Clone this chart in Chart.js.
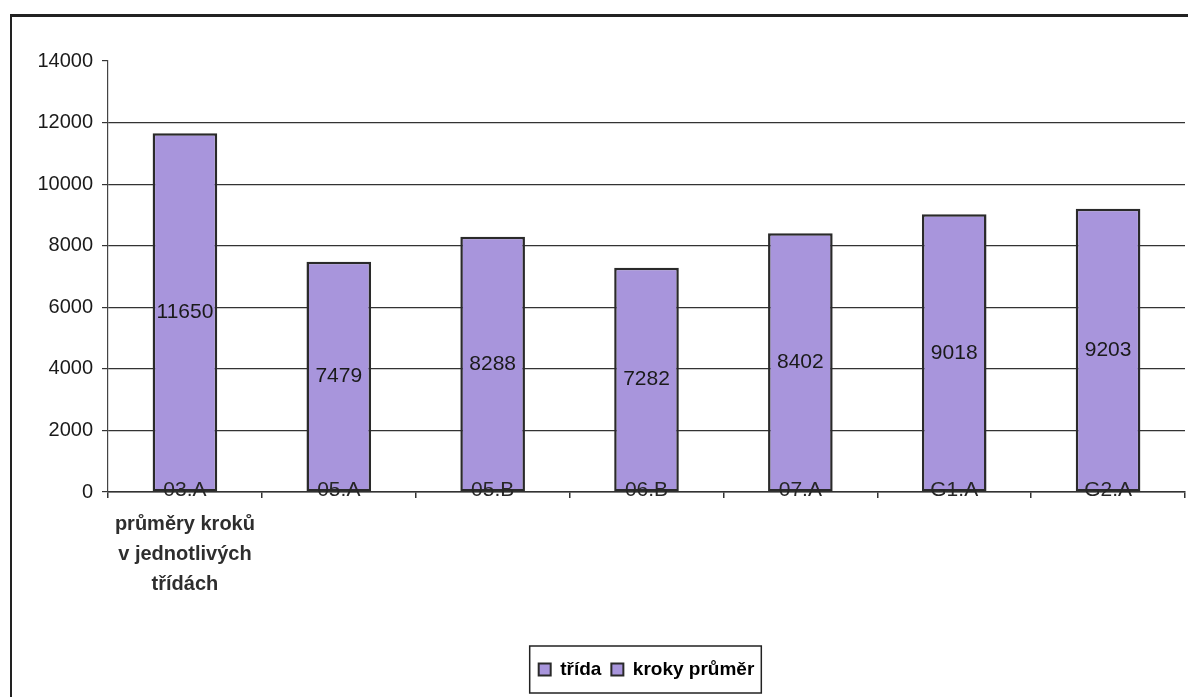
<!DOCTYPE html>
<html>
<head>
<meta charset="utf-8">
<script src="https://cdn.jsdelivr.net/npm/chart.js@4.4.0/dist/chart.umd.min.js"></script>
<style>
  html, body { margin: 0; padding: 0; background: #fff; }
  #wrap { position: relative; width: 1190px; height: 697px; }
  #frame { position: absolute; left: 10px; top: 14px; width: 1176px; height: 690px;
           border-left: 2px solid #222; border-top: 3px solid #222; pointer-events: none; }
</style>
</head>
<body>
<div id="wrap">
  <canvas id="myChart"></canvas>
  <div id="frame"></div>
</div>
<script>
var classes = ['03.A', '05.A', '05.B', '06.B', '07.A', 'G1.A', 'G2.A'];
var stepAverages = [11650, 7479, 8288, 7282, 8402, 9018, 9203];
var legendNames = ['třída', 'kroky průměr'];
var axisCaption = ['průměry kroků', 'v jednotlivých', 'třídách'];
var yMax = 14000;
var yStep = 2000;

(function () {
    var font = '"Liberation Sans", Arial, sans-serif';
    var barFill = '#a895dc';
    var barEdge = '#2a2a2a';
    var ink = '#1a1a1a';

    // value in the middle of each bar
    var valueLabels = {
        id: 'valueLabels',
        afterDatasetsDraw: function (chart) {
            var ctx = chart.ctx;
            var meta = chart.getDatasetMeta(0);
            ctx.save();
            ctx.font = '21px ' + font;
            ctx.fillStyle = ink;
            ctx.textAlign = 'center';
            ctx.textBaseline = 'middle';
            meta.data.forEach(function (bar, i) {
                ctx.fillText(String(stepAverages[i]), bar.x, (bar.y + bar.base) / 2);
            });
            ctx.restore();
        }
    };

    // caption under first category + frame round the legend
    var extras = {
        id: 'extras',
        afterDraw: function (chart) {
            var ctx = chart.ctx;
            var x = chart.scales.x.getPixelForValue(0);
            ctx.save();
            ctx.font = 'bold 20px ' + font;
            ctx.fillStyle = '#2e2e2e';
            ctx.textAlign = 'center';
            ctx.textBaseline = 'middle';
            axisCaption.forEach(function (line, i) {
                ctx.fillText(line, x, 524 + i * 30);
            });

            var boxes = chart.legend.legendHitBoxes;
            if (boxes && boxes.length) {
                var l = Math.min.apply(null, boxes.map(function (b) { return b.left; }));
                var r = Math.max.apply(null, boxes.map(function (b) { return b.left + b.width; }));
                var t = Math.min.apply(null, boxes.map(function (b) { return b.top; }));
                var btm = Math.max.apply(null, boxes.map(function (b) { return b.top + b.height; }));
                ctx.strokeStyle = '#222';
                ctx.lineWidth = 1.5;
                ctx.strokeRect(l - 9, t - 14, (r - l) + 16, (btm - t) + 28);
            }
            ctx.restore();
        }
    };

    var ctx = document.getElementById('myChart');
    new Chart(ctx, {
        type: 'bar',
        plugins: [valueLabels, extras],
        data: {
            labels: classes,
            datasets: [{
                label: legendNames[1],
                data: stepAverages,
                backgroundColor: barFill,
                borderColor: barEdge,
                borderWidth: 2.5,
                borderSkipped: false,
                categoryPercentage: 1,
                barPercentage: 0.42
            }]
        },
        options: {
            responsive: true,
            maintainAspectRatio: false,
            animation: false,
            layout: { padding: { top: 61, right: 5, bottom: 8, left: 0 } },
            plugins: {
                tooltip: { enabled: false },
                legend: {
                    position: 'bottom',
                    fullSize: false,
                    labels: {
                        font: { family: font, size: 19, weight: 'bold' },
                        color: ink,
                        boxWidth: 12,
                        boxHeight: 12,
                        padding: 10,
                        generateLabels: function () {
                            return legendNames.map(function (name) {
                                return {
                                    text: name,
                                    fillStyle: barFill,
                                    strokeStyle: barEdge,
                                    lineWidth: 2,
                                    hidden: false,
                                    datasetIndex: 0
                                };
                            });
                        }
                    }
                }
            },
            scales: {
                x: {
                    afterFit: function (scale) { scale.height = 158; },
                    grid: {
                        display: true,
                        drawOnChartArea: false,
                        offset: true,
                        tickLength: 6,
                        color: '#333',
                        lineWidth: 1.5
                    },
                    border: { display: true, color: '#333', width: 1.5 },
                    ticks: {
                        z: 1,          // labels sit on top of the bars
                        mirror: true,  // drawn inside the plot, over the axis line
                        font: { family: font, size: 21 },
                        color: '#262626',
                        padding: -11,
                        maxRotation: 0
                    }
                },
                y: {
                    min: 0,
                    max: yMax,
                    afterFit: function (scale) { scale.width = 108; },
                    ticks: {
                        stepSize: yStep,
                        font: { family: font, size: 20 },
                        color: ink,
                        padding: 9,
                        callback: function (v) { return String(v); }
                    },
                    grid: {
                        color: function (c) { return c.tick && c.tick.value === yMax ? 'rgba(0,0,0,0)' : '#333'; },
                        tickColor: '#333',
                        tickLength: 6,
                        lineWidth: 1.2
                    },
                    border: { display: true, color: '#444', width: 1.2 }
                }
            }
        }
    });
})()
</script>
</body>
</html>
